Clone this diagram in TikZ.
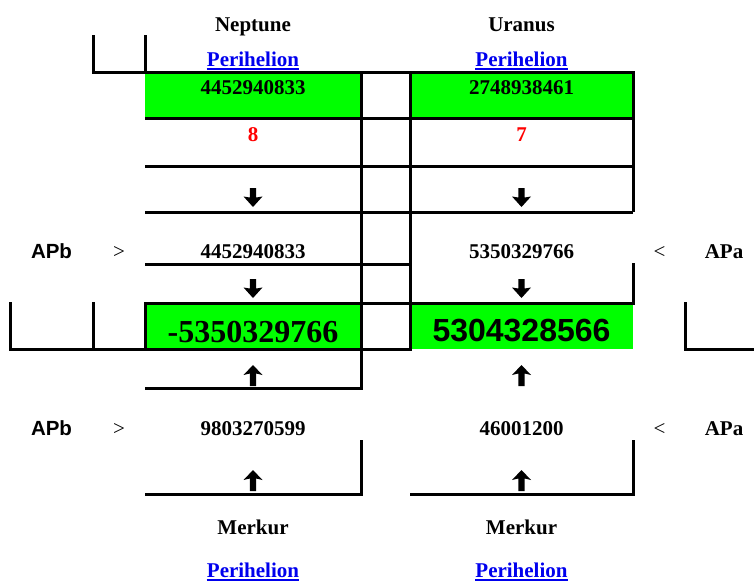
\documentclass[tikz,border=0pt]{standalone}
\usepackage{fontspec}
\setmainfont{Liberation Serif}
\newfontfamily\arialf{Liberation Sans}
\definecolor{linkblue}{RGB}{0,0,238}
\definecolor{cellgreen}{RGB}{0,255,0}
\tikzset{
 pics/dnarrow/.style={code={\fill[black] (-3.2,0) -- (3.2,0) -- (3.2,9.5) -- (9.5,8.5) -- (0,19) -- (-9.5,8.5) -- (-3.2,9.5) -- cycle;}},
 pics/uparrow/.style={code={\fill[black] (0,0) -- (9.5,10) -- (3.2,8.5) -- (3.2,21) -- (-3.2,21) -- (-3.2,8.5) -- (-9.5,10) -- cycle;}}
}
\begin{document}
\begin{tikzpicture}[x=1pt,y=-1pt,
 rule/.style={line width=3pt, line join=miter},
 txt/.style={inner sep=0, anchor=base, font=\fontsize{21}{24}\selectfont\bfseries},
 sanstxt/.style={inner sep=0, anchor=base, font=\fontsize{20.5}{24}\selectfont\arialf\bfseries},
 bigserif/.style={inner sep=0, anchor=base, font=\fontsize{32}{36}\selectfont\bfseries},
 bigsans/.style={inner sep=0, anchor=base, font=\fontsize{32}{36}\selectfont\arialf\bfseries},
 link/.style={txt, text=linkblue},
 redtxt/.style={txt, text=red},
 cmp/.style={inner sep=0, anchor=base, font=\fontsize{21}{24}\selectfont},
 uline/.style={linkblue, line width=2pt}
]
\useasboundingbox (0,0) rectangle (754,581);
% green cells
\fill[cellgreen] (145,72) rectangle (361,118);
\fill[cellgreen] (410,72) rectangle (633,118);
\fill[cellgreen] (145,303) rectangle (361,349);
\fill[cellgreen] (410,303) rectangle (633,349);
% rules
\draw[rule] (93,35) -- (93,72) -- (633,72) -- (633,212);
\draw[rule] (145,35) -- (145,72);
\draw[rule] (145,118) -- (633,118);
\draw[rule] (145,166) -- (633,166);
\draw[rule] (145,212) -- (633,212);
\draw[rule] (361,72) -- (361,388) -- (145,388);
\draw[rule] (410,72) -- (410,349) -- (10,349) -- (10,302);
\draw[rule] (93,302) -- (93,349);
\draw[rule] (145,264) -- (410,264);
\draw[rule] (145,349) -- (145,303) -- (633,303) -- (633,263);
\draw[rule] (685,302) -- (685,349) -- (754,349);
\draw[rule] (361,440) -- (361,494) -- (145,494);
\draw[rule] (633,440) -- (633,494) -- (410,494);
% headers
\node[txt] (nep) at (253,31) {Neptune};
\node[txt] (ura) at (521.5,31) {Uranus};
\node[link] (p1) at (253,66) {Perihelion};
\node[link] (p2) at (521.5,66) {Perihelion};
\draw[uline] ([yshift=-3pt]p1.base west) -- ([yshift=-3pt]p1.base east);
\draw[uline] ([yshift=-3pt]p2.base west) -- ([yshift=-3pt]p2.base east);
% first row
\node[txt] (n1) at (253,94) {4452940833};
\node[txt] (u1) at (521.5,94) {2748938461};
\node[redtxt] (r8) at (253,141) {8};
\node[redtxt] (r7) at (521.5,141) {7};
\pic at (253,188) {dnarrow};
\pic at (521.5,188) {dnarrow};
% APb row
\node[sanstxt] (apb1) at (51.5,258) {APb};
\node[cmp] (gt1) at (119,258) {>};
\node[txt] (n2) at (253,258) {4452940833};
\node[txt] (u2) at (521.5,258) {5350329766};
\node[cmp] (lt1) at (659.5,258) {<};
\node[txt] (apa1) at (724,258) {APa};
\pic at (253,279) {dnarrow};
\pic at (521.5,279) {dnarrow};
% results
\node[bigserif] (res1) at (253,342) {-5350329766};
\node[bigsans] (res2) at (521.5,341) {5304328566};
\pic at (253,365) {uparrow};
\pic at (521.5,365) {uparrow};
% lower row
\node[sanstxt] (apb2) at (51.5,435) {APb};
\node[cmp] (gt2) at (119,435) {>};
\node[txt] (n3) at (253,435) {9803270599};
\node[txt] (u3) at (521.5,435) {46001200};
\node[cmp] (lt2) at (659.5,435) {<};
\node[txt] (apa2) at (724,435) {APa};
\pic at (253,470) {uparrow};
\pic at (521.5,470) {uparrow};
% footers
\node[txt] (m1) at (253,534) {Merkur};
\node[txt] (m2) at (521.5,534) {Merkur};
\node[link] (p3) at (253,577) {Perihelion};
\node[link] (p4) at (521.5,577) {Perihelion};
\draw[uline] ([yshift=-2.5pt]p3.base west) -- ([yshift=-2.5pt]p3.base east);
\draw[uline] ([yshift=-2.5pt]p4.base west) -- ([yshift=-2.5pt]p4.base east);
\end{tikzpicture}
\end{document}
